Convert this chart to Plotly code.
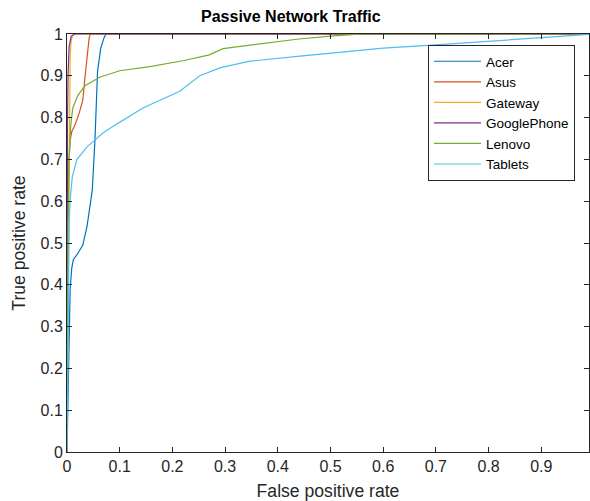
import plotly.graph_objects as go

# ---- data ----
acer_fpr = [0, 0.002, 0.004, 0.006, 0.009, 0.012, 0.021, 0.030, 0.038, 0.044, 0.048, 0.053, 0.056, 0.058, 0.064, 0.070, 0.074, 1.0]
acer_tpr = [0, 0.15, 0.30, 0.39, 0.44, 0.46, 0.476, 0.495, 0.54, 0.595, 0.627, 0.746, 0.842, 0.911, 0.966, 0.99, 1.0, 1.0]

asus_fpr = [0, 0.001, 0.001, 0.002, 0.004, 0.006, 0.009, 0.015, 0.023, 0.030, 0.034, 0.039, 0.042, 0.044, 1.0]
asus_tpr = [0, 0.20, 0.45, 0.60, 0.70, 0.746, 0.766, 0.782, 0.81, 0.842, 0.895, 0.966, 0.99, 1.0, 1.0]

gateway_fpr = [0, 0.001, 0.002, 0.003, 0.004, 0.005, 0.006, 0.006, 0.008, 0.011, 0.016, 1.0]
gateway_tpr = [0, 0.15, 0.30, 0.40, 0.55, 0.70, 0.80, 0.95, 0.985, 0.997, 1.0, 1.0]

google_fpr = [0, 0.0, 0.001, 0.002, 0.004, 0.008, 0.015, 1.0]
google_tpr = [0, 0.60, 0.80, 0.90, 0.97, 0.995, 1.0, 1.0]

lenovo_fpr = [0, 0.001, 0.002, 0.004, 0.007, 0.011, 0.021, 0.034, 0.063, 0.100, 0.157, 0.220, 0.270, 0.296, 0.347, 0.404, 0.440, 0.500, 0.560, 1.0]
lenovo_tpr = [0, 0.30, 0.55, 0.70, 0.78, 0.823, 0.854, 0.876, 0.897, 0.912, 0.922, 0.936, 0.950, 0.965, 0.973, 0.982, 0.988, 0.995, 1.0, 1.0]

tablets_fpr = [0, 0.001, 0.002, 0.004, 0.006, 0.010, 0.019, 0.038, 0.053, 0.068, 0.095, 0.144, 0.214, 0.252, 0.290, 0.347, 0.442, 0.600, 0.700, 0.800, 0.900, 1.0]
tablets_tpr = [0, 0.20, 0.40, 0.55, 0.603, 0.658, 0.700, 0.730, 0.746, 0.763, 0.785, 0.823, 0.863, 0.900, 0.919, 0.935, 0.947, 0.966, 0.974, 0.983, 0.992, 1.0]

names = ["Acer", "Asus", "Gateway", "GooglePhone", "Lenovo", "Tablets"]
colors = ["#0072BD", "#D95319", "#EDB120", "#7E2F8E", "#77AC30", "#4DBEEE"]
series = [(acer_fpr, acer_tpr), (asus_fpr, asus_tpr), (gateway_fpr, gateway_tpr),
          (google_fpr, google_tpr), (lenovo_fpr, lenovo_tpr), (tablets_fpr, tablets_tpr)]

x_ticks = [0, 0.1, 0.2, 0.3, 0.4, 0.5, 0.6, 0.7, 0.8, 0.9]
x_ticklabels = ["0", "0.1", "0.2", "0.3", "0.4", "0.5", "0.6", "0.7", "0.8", "0.9"]
y_ticks = [0, 0.1, 0.2, 0.3, 0.4, 0.5, 0.6, 0.7, 0.8, 0.9, 1.0]
y_ticklabels = ["0", "0.1", "0.2", "0.3", "0.4", "0.5", "0.6", "0.7", "0.8", "0.9", "1"]

fig = go.Figure()
for name, color, (xs, ys) in zip(names, colors, series):
    fig.add_trace(go.Scatter(x=xs, y=ys, mode="lines", name=name,
                             line=dict(color=color, width=1.2)))

axcol = "#262626"
FONT = "Liberation Sans, Arial, sans-serif"
fig.update_layout(
    width=590, height=501,
    margin=dict(l=67, r=1, t=34, b=49),
    paper_bgcolor="white", plot_bgcolor="white",
    font=dict(family=FONT, size=16, color=axcol),
    title=dict(text="<b>Passive Network Traffic</b>", x=0.493, xanchor="center",
               y=0.967, yanchor="middle", font=dict(family=FONT, size=16, color="black")),
    showlegend=True,
    legend=dict(x=0.6916, y=0.9737, xanchor="left", yanchor="top",
                bgcolor="white", bordercolor=axcol, borderwidth=1,
                font=dict(family=FONT, size=13.5, color="black"),
                itemwidth=47, tracegroupgap=0),
)
fig.update_xaxes(range=[0, 0.9905], tickvals=x_ticks, ticktext=x_ticklabels,
                 showgrid=False, zeroline=False, showline=True, linecolor=axcol,
                 linewidth=1, mirror="allticks", ticks="inside", ticklen=5,
                 tickcolor=axcol, tickfont=dict(size=16, color=axcol), automargin=False,
                 title=dict(text="False positive rate", font=dict(size=17.6, color=axcol), standoff=10))
fig.update_yaxes(range=[0, 1], tickvals=y_ticks, ticktext=y_ticklabels,
                 showgrid=False, zeroline=False, showline=True, linecolor=axcol,
                 linewidth=1, mirror="allticks", ticks="inside", ticklen=5,
                 tickcolor=axcol, tickfont=dict(size=16, color=axcol), automargin=False,
                 title=dict(text="True positive rate", font=dict(size=17.6, color=axcol), standoff=10))

# remove the default page margin so the 590x501 figure fills the window exactly
fig.write_html("out.html", config={"displayModeBar": False},
               post_script="document.body.style.margin='0';document.body.style.overflow='hidden';")
